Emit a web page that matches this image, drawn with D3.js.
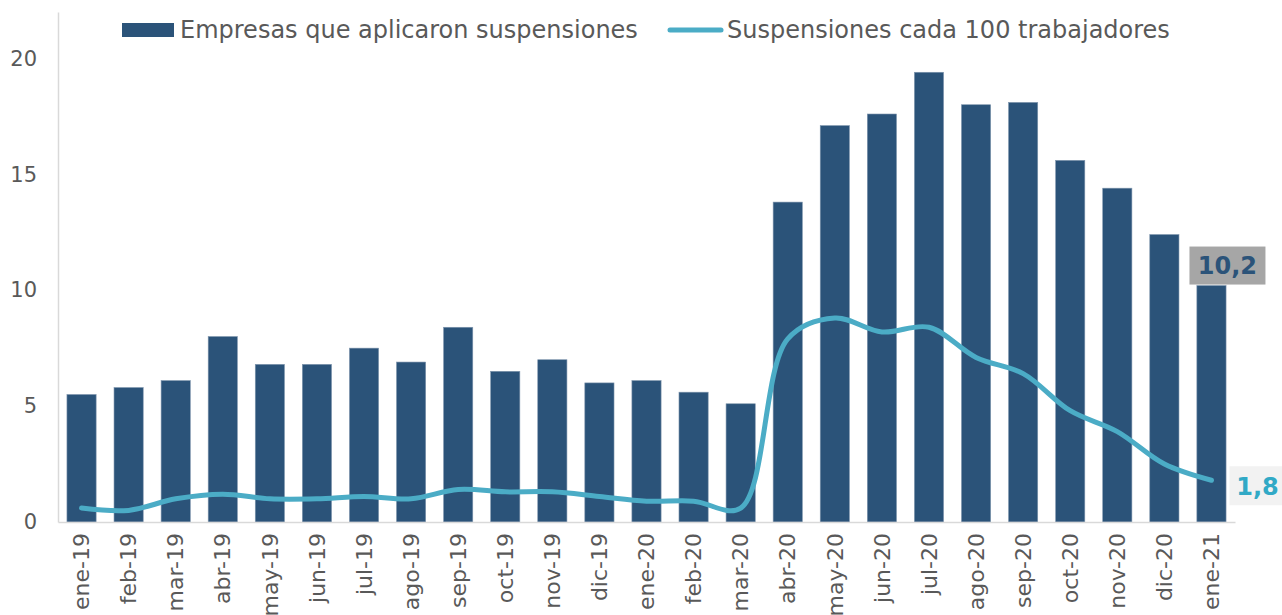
<!DOCTYPE html>
<html>
<head>
<meta charset="utf-8">
<script src="https://cdn.jsdelivr.net/npm/d3@7"></script>
<style>
  body { margin: 0; background: #fff; }
  text { font-family: "DejaVu Sans", Verdana, sans-serif; }
</style>
</head>
<body>
<div id="chart"></div>
<script>
// Data
const months = ["ene-19", "feb-19", "mar-19", "abr-19", "may-19", "jun-19", "jul-19", "ago-19",
    "sep-19", "oct-19", "nov-19", "dic-19", "ene-20", "feb-20", "mar-20", "abr-20", "may-20",
    "jun-20", "jul-20", "ago-20", "sep-20", "oct-20", "nov-20", "dic-20", "ene-21"];
const empresas = [5.5, 5.8, 6.1, 8.0, 6.8, 6.8, 7.5, 6.9, 8.4, 6.5, 7.0, 6.0, 6.1, 5.6, 5.1,
    13.8, 17.1, 17.6, 19.4, 18.0, 18.1, 15.6, 14.4, 12.4, 10.2];
const suspensiones = [0.6, 0.5, 1.0, 1.2, 1.0, 1.0, 1.1, 1.0, 1.4, 1.3, 1.3, 1.1, 0.9, 0.9, 0.6,
    7.9, 8.8, 8.2, 8.4, 7.1, 6.4, 4.8, 3.9, 2.5, 1.8];
const yTicks = [0, 5, 10, 15, 20];
const seriesNames = ["Empresas que aplicaron suspensiones", "Suspensiones cada 100 trabajadores"];

const barColor = "#2b5379";
const lineColor = "#4bacc6";
const textColor = "#595959";

// Dimensions
const W = 1282, H = 615;
const margin = { top: 12, right: 47, bottom: 93, left: 58 };
const width = W - margin.left - margin.right;
const height = H - margin.top - margin.bottom;

const svg = d3.select("#chart")
    .append("svg")
    .attr("width", W)
    .attr("height", H)
    .append("g")
    .attr("transform", `translate(${margin.left},${margin.top})`);

// Scales
const x = d3.scaleBand()
    .domain(months)
    .range([0, width])
    .paddingInner(0.38)
    .paddingOuter(0.19);

const y = d3.scaleLinear()
    .domain([0, 22])
    .range([height, 0]);

// Bars
svg.selectAll(".bar")
    .data(empresas)
    .enter()
    .append("rect")
    .attr("class", "bar")
    .attr("x", (d, i) => x(months[i]))
    .attr("y", d => y(d))
    .attr("width", x.bandwidth())
    .attr("height", d => height - y(d))
    .attr("fill", barColor)
    .attr("stroke", "#7f95ad")
    .attr("stroke-width", 0.6);

// Axes
const yAxis = svg.append("g")
    .call(d3.axisLeft(y).tickValues(yTicks).tickSize(0).tickPadding(21));
yAxis.select(".domain").attr("stroke", "#d9d9d9").attr("stroke-width", 1.5);
yAxis.selectAll("text")
    .attr("fill", textColor)
    .style("font-size", "21px");

const xAxis = svg.append("g")
    .attr("transform", `translate(0,${height})`)
    .call(d3.axisBottom(x).tickSize(0).tickPadding(0));
xAxis.select(".domain").attr("stroke", "#d9d9d9").attr("stroke-width", 1.5);
xAxis.selectAll("text")
    .attr("fill", textColor)
    .style("font-size", "22px")
    .attr("transform", "rotate(-90)")
    .attr("x", -11)
    .attr("y", 0)
    .attr("dy", "0.35em")
    .style("text-anchor", "end");

// Line
const line = d3.line()
    .x((d, i) => x(months[i]) + x.bandwidth() / 2)
    .y(d => y(d))
    .curve(d3.curveCatmullRom.alpha(0.5));

svg.append("path")
    .datum(suspensiones)
    .attr("fill", "none")
    .attr("stroke", lineColor)
    .attr("stroke-width", 5)
    .attr("stroke-linecap", "round")
    .attr("d", line);

// End labels
const last = months.length - 1;
const lastX = x(months[last]) + x.bandwidth() / 2;

const lab1 = svg.append("g")
    .attr("transform", `translate(${lastX + 16},${y(empresas[last]) - 20})`);
lab1.append("rect")
    .attr("x", -38).attr("y", -19)
    .attr("width", 76).attr("height", 38)
    .attr("fill", "#a6a6a6");
lab1.append("text")
    .attr("text-anchor", "middle")
    .attr("dy", "0.36em")
    .attr("fill", barColor)
    .style("font-size", "24px")
    .style("font-weight", "bold")
    .text(d3.format(".1f")(empresas[last]).replace(".", ","));

const lab2 = svg.append("g")
    .attr("transform", `translate(${lastX + 46},${y(suspensiones[last]) + 6})`);
lab2.append("rect")
    .attr("x", -28).attr("y", -20)
    .attr("width", 60).attr("height", 39)
    .attr("fill", "#f2f2f2");
lab2.append("text")
    .attr("text-anchor", "middle")
    .attr("dy", "0.36em")
    .attr("fill", "#31a9c6")
    .style("font-size", "24px")
    .style("font-weight", "bold")
    .text(d3.format(".1f")(suspensiones[last]).replace(".", ","));

// Legend
const legend = svg.append("g")
    .attr("transform", `translate(0,${30 - margin.top})`);

legend.append("rect")
    .attr("x", 122 - margin.left)
    .attr("y", -7)
    .attr("width", 52)
    .attr("height", 14)
    .attr("fill", barColor);
legend.append("text")
    .attr("x", 180 - margin.left)
    .attr("dy", "0.35em")
    .attr("fill", textColor)
    .style("font-size", "24px")
    .text(seriesNames[0]);

legend.append("line")
    .attr("x1", 670 - margin.left)
    .attr("x2", 721 - margin.left)
    .attr("stroke", lineColor)
    .attr("stroke-width", 5)
    .attr("stroke-linecap", "round");
legend.append("text")
    .attr("x", 727 - margin.left)
    .attr("dy", "0.35em")
    .attr("fill", textColor)
    .style("font-size", "24px")
    .text(seriesNames[1]);
</script>
</body>
</html>
